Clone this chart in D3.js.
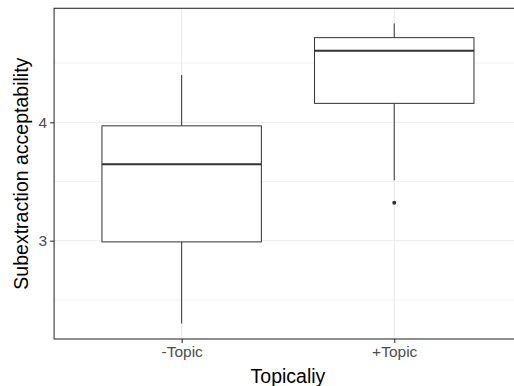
<!DOCTYPE html>
<html>
<head>
<meta charset="utf-8">
<script src="https://cdn.jsdelivr.net/npm/d3@7"></script>
<style>
  body { margin: 0; background: #fff; }
  svg text { font-family: "Liberation Sans", Arial, Helvetica, sans-serif; }
</style>
</head>
<body>
<div id="chart"></div>
<script>
// data
let categories = ["-Topic", "+Topic"]
let whiskerLow = [2.30, 3.51]
let q1 = [2.99, 4.16]
let medians = [3.645, 4.605]
let q3 = [3.97, 4.715]
let whiskerHigh = [4.40, 4.835]
let outliers = [[], [3.32]]
let yTicks = [3, 4]
let yMinor = [2.5, 3.5, 4.5]

let svgWidth = 514
let svgHeight = 386
let panel = { left: 54.1, top: 8.3, right: 521.8, bottom: 339 }

let svg = d3.select("#chart")
    .append("svg")
    .attr("width", svgWidth)
    .attr("height", svgHeight)

// y scale: 4 -> 122.3, 3 -> 240.7
let unit = 240.7 - 122.3
let yScale = d3.scaleLinear()
    .domain([3 - (panel.bottom - 240.7) / unit, 4 + (122.3 - panel.top) / unit])
    .range([panel.bottom, panel.top])

// discrete x with ggplot's 0.6 expansion each side
let xScale = d3.scalePoint()
    .domain(categories)
    .range([panel.left, panel.right])
    .padding(0.6)
let step = xScale.step()
let boxW = step * 0.75

let boxes = categories.map((c, i) => ({
    cat: c, lo: whiskerLow[i], q1: q1[i], med: medians[i], q3: q3[i], hi: whiskerHigh[i], out: outliers[i]
}))

// grid
let grid = svg.append("g")
grid.selectAll(".minor").data(yMinor).enter().append("line")
    .attr("x1", panel.left).attr("x2", panel.right)
    .attr("y1", d => yScale(d)).attr("y2", d => yScale(d))
    .attr("stroke", "#ebebeb").attr("stroke-width", 0.6)
grid.selectAll(".major").data(yTicks).enter().append("line")
    .attr("x1", panel.left).attr("x2", panel.right)
    .attr("y1", d => yScale(d)).attr("y2", d => yScale(d))
    .attr("stroke", "#ebebeb").attr("stroke-width", 1.1)
grid.selectAll(".xmajor").data(categories).enter().append("line")
    .attr("x1", d => xScale(d)).attr("x2", d => xScale(d))
    .attr("y1", panel.top).attr("y2", panel.bottom)
    .attr("stroke", "#ebebeb").attr("stroke-width", 1.1)

// boxes
let bg = svg.append("g").selectAll("g").data(boxes).enter().append("g")
bg.append("line")
    .attr("x1", d => xScale(d.cat)).attr("x2", d => xScale(d.cat))
    .attr("y1", d => yScale(d.hi)).attr("y2", d => yScale(d.q3))
    .attr("stroke", "#333").attr("stroke-width", 1)
bg.append("line")
    .attr("x1", d => xScale(d.cat)).attr("x2", d => xScale(d.cat))
    .attr("y1", d => yScale(d.q1)).attr("y2", d => yScale(d.lo))
    .attr("stroke", "#333").attr("stroke-width", 1)
bg.append("rect")
    .attr("x", d => xScale(d.cat) - boxW / 2)
    .attr("width", boxW)
    .attr("y", d => yScale(d.q3))
    .attr("height", d => yScale(d.q1) - yScale(d.q3))
    .attr("fill", "white").attr("stroke", "#333").attr("stroke-width", 1)
bg.append("line")
    .attr("x1", d => xScale(d.cat) - boxW / 2).attr("x2", d => xScale(d.cat) + boxW / 2)
    .attr("y1", d => yScale(d.med)).attr("y2", d => yScale(d.med))
    .attr("stroke", "#333").attr("stroke-width", 2)
bg.selectAll("circle").data(d => d.out.map(v => ({ cat: d.cat, v: v }))).enter().append("circle")
    .attr("cx", d => xScale(d.cat)).attr("cy", d => yScale(d.v))
    .attr("r", 2).attr("fill", "#333")

// panel border
svg.append("rect")
    .attr("x", panel.left).attr("y", panel.top)
    .attr("width", panel.right - panel.left).attr("height", panel.bottom - panel.top)
    .attr("fill", "none").attr("stroke", "#333").attr("stroke-width", 1.1)

// axes
let leftAxis = d3.axisLeft(yScale).tickValues(yTicks).tickFormat(d3.format("d")).tickSize(4).tickPadding(3)
let bottomAxis = d3.axisBottom(xScale).tickSize(4).tickPadding(3)

let gy = svg.append("g").attr("transform", `translate(${panel.left},0)`).call(leftAxis)
let gx = svg.append("g").attr("transform", `translate(0,${panel.bottom})`).call(bottomAxis)
;[gx, gy].forEach(g => {
    g.select(".domain").remove()
    g.selectAll(".tick line").attr("stroke", "#333").attr("stroke-width", 1.1)
    g.selectAll(".tick text").attr("fill", "#4d4d4d").style("font-size", "15.5px")
        .style("font-family", "'Liberation Sans', Arial, sans-serif")
})

// titles
svg.append("text")
    .attr("x", (panel.left + panel.right) / 2)
    .attr("y", 382.5)
    .attr("text-anchor", "middle")
    .style("font-size", "19.5px")
    .text("Topicaliy")

svg.append("text")
    .attr("transform", `translate(28, ${(panel.top + panel.bottom) / 2}) rotate(-90)`)
    .attr("text-anchor", "middle")
    .style("font-size", "19.5px")
    .text("Subextraction acceptability")
</script>
</body>
</html>
